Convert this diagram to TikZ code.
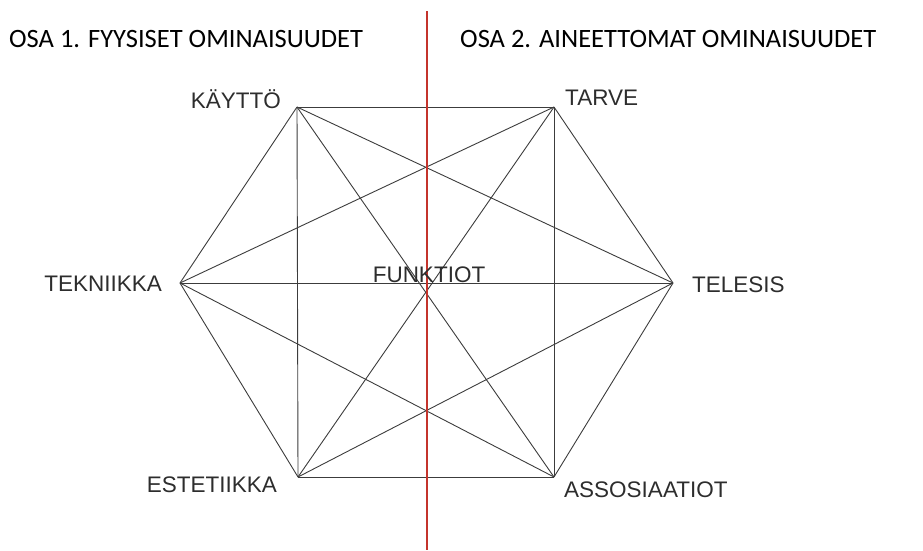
\documentclass[tikz,border=0pt]{standalone}
\usepackage{fontspec}
\setmainfont{Liberation Sans}
\newfontfamily\headfont{Carlito}
\definecolor{redline}{RGB}{196,52,44}
\definecolor{labelgray}{RGB}{45,45,45}
\definecolor{edgegray}{RGB}{60,60,60}
\begin{document}
\begin{tikzpicture}[x=1pt,y=-1pt,
  edge/.style={draw=edgegray,line width=0.9pt},
  lbl/.style={inner sep=0pt,text=labelgray,font=\fontsize{22.5}{27}\selectfont},
  head/.style={inner sep=0pt,text=black,font=\headfont\fontsize{26.5}{32}\selectfont}]
\useasboundingbox (0,0) rectangle (923,550);
% vertices
\coordinate (kay) at (297,107);
\coordinate (tar) at (554,107);
\coordinate (tel) at (673,283);
\coordinate (ass) at (554,477);
\coordinate (est) at (298,477);
\coordinate (tek) at (180,283);
% complete graph
\foreach \a/\b in {kay/tar,kay/tel,kay/ass,kay/est,kay/tek,
                   tar/tel,tar/ass,tar/est,tar/tek,
                   tel/ass,tel/est,tel/tek,
                   ass/est,ass/tek,
                   est/tek}
  \draw[edge] (\a) -- (\b);
% red divider
\coordinate (rtop) at (427,11);
\coordinate (rbot) at (427,550);
\draw[redline,line width=2.6pt] (rtop) -- (rbot);
% headings
\node[head,anchor=base west] (h1) at (9,47) {OSA 1. FYYSISET OMINAISUUDET};
\node[head,anchor=base west] (h2) at (460,47) {OSA 2. AINEETTOMAT OMINAISUUDET};
% labels
\node[lbl,anchor=base east] (lkay) at (281,108) {KÄYTTÖ};
\node[lbl,anchor=base west] (ltar) at (565,105) {TARVE};
\node[lbl,anchor=base west] (ltel) at (692,292) {TELESIS};
\node[lbl,anchor=base west] (lass) at (564,497) {ASSOSIAATIOT};
\node[lbl,anchor=base east] (lest) at (277,492) {ESTETIIKKA};
\node[lbl,anchor=base east] (ltek) at (162,291) {TEKNIIKKA};
\node[lbl,anchor=base] (lfun) at (429,282) {FUNKTIOT};
\end{tikzpicture}
\end{document}
